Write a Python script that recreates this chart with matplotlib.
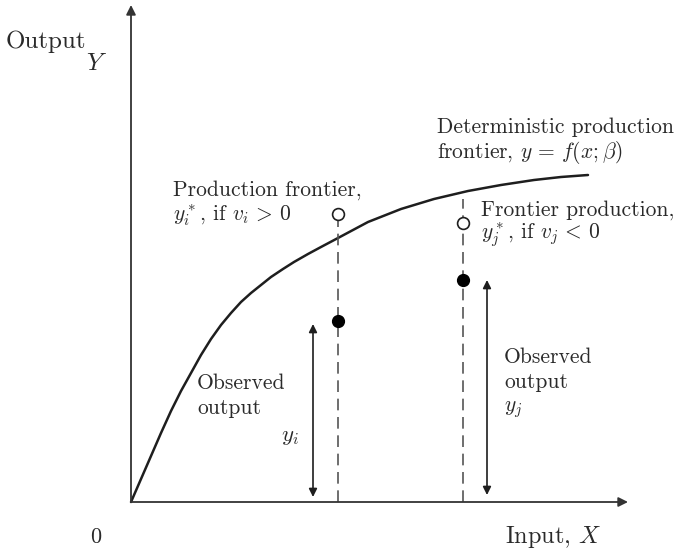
import numpy as np
import matplotlib.pyplot as plt

plt.rcParams['font.family'] = 'cmr10'
plt.rcParams['mathtext.fontset'] = 'cm'

# frontier curve y = f(x; beta) (origin at 0,0)
curve_x = [0, 10, 20, 30, 40, 50, 60, 70, 80, 90, 100, 110, 120, 130, 140, 152, 163, 177,
           190, 207, 237, 270, 303, 337, 370, 403, 430, 457]
curve_y = [0, 23, 46, 69, 91, 111, 129, 147, 163, 177, 189, 200, 209, 217, 225, 233, 240, 248,
           255, 264, 280, 293, 303, 311, 317, 322, 325, 327]

# two firms i and j
firm_x = [207, 332]
frontier_y = [288, 279]      # y*_i, y*_j (open circles)
observed_y = [181, 222]      # y_i, y_j (filled dots)
dash_top = [288, 303]

# double arrows for observed output
arrow_x = [182, 356]
arrow_lo = [5, 7]
arrow_hi = [178, 222]

x_end, y_end = 497, 497

fig = plt.figure(figsize=(6.82, 5.51), dpi=100)
ax = fig.add_axes([0, 0, 1, 1])
ax.set_xlim(-131, 551)
ax.set_ylim(-49, 502)
ax.axis('off')

lc = '#1e1e1e'
# axes with arrows
ax.annotate('', xy=(x_end, 0), xytext=(0, 0),
            arrowprops=dict(arrowstyle='-|>', color='#333333', lw=1.3, mutation_scale=14, shrinkA=0, shrinkB=0))
ax.annotate('', xy=(0, y_end), xytext=(0, 0),
            arrowprops=dict(arrowstyle='-|>', color='#333333', lw=1.3, mutation_scale=14, shrinkA=0, shrinkB=0))

ax.plot(curve_x, curve_y, color=lc, lw=1.8, solid_capstyle='round', solid_joinstyle='round')

for k in range(2):
    ax.plot([firm_x[k], firm_x[k]], [0, dash_top[k]], color='#555555', lw=1.2, ls=(0, (7, 4)))
    ax.plot(firm_x[k], frontier_y[k], 'o', ms=8.5, mfc='white', mec=lc, mew=1.2, zorder=5)
    ax.plot(firm_x[k], observed_y[k], 'o', ms=8.5, color='black', zorder=5)
    ax.annotate('', xy=(arrow_x[k], arrow_hi[k]), xytext=(arrow_x[k], arrow_lo[k]),
                arrowprops=dict(arrowstyle='<|-|>', color=lc, lw=1.2, mutation_scale=12, shrinkA=0, shrinkB=0))

tc = '#2a2a2a'
fs = 15.5


def lines(x, ys, texts, size=fs):
    for y, t in zip(ys, texts):
        ax.text(x, y, t, fontsize=size, color=tc, ha='left', va='center')


ax.text(-85, 460, 'Output', fontsize=18, color=tc, ha='center', va='center')
ax.text(-34, 438, r'$Y$', fontsize=18, color=tc, ha='center', va='center')
ax.text(-35, -35, '0', fontsize=16, color=tc, ha='center', va='center')
ax.text(374, -35, r'Input, $X$', fontsize=17.5, color=tc, ha='left', va='center')

lines(306, [375, 350], ['Deterministic production', r'frontier, $y\,=\,f(x;\beta)$'])
lines(42, [312, 287], ['Production frontier,', r'$y_i^*$, if $v_i\, >\, 0$'])
lines(350, [292, 267], ['Frontier production,', r'$y_j^*$, if $v_j\, <\, 0$'])
lines(66, [119, 94], ['Observed', 'output'])
ax.text(159, 65, r'$y_i$', fontsize=fs + 1, color=tc, ha='center', va='center')
lines(373, [145, 120, 92], ['Observed', 'output', r'$y_j$'])

fig.savefig('out.png', dpi=100)
